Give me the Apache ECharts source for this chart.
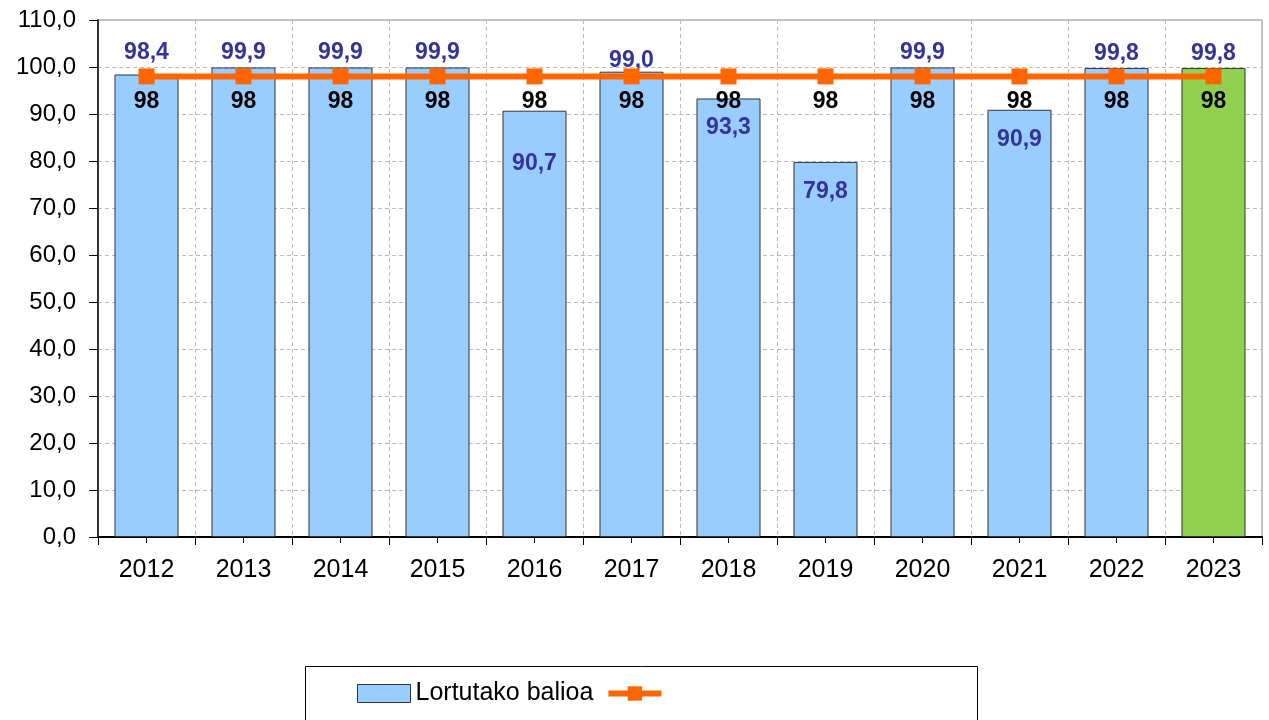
<!DOCTYPE html>
<html>
<head>
<meta charset="utf-8">
<script src="https://cdn.jsdelivr.net/npm/echarts@6/dist/echarts.min.js"></script>
<style>
  html, body { margin: 0; padding: 0; background: #fff; }
  #chart { width: 1269px; height: 720px; }
</style>
</head>
<body>
<div id="chart"></div>
<script>
// data
const years = ["2012", "2013", "2014", "2015", "2016", "2017", "2018", "2019", "2020", "2021", "2022", "2023"];
const achieved = [98.4, 99.9, 99.9, 99.9, 90.7, 99.0, 93.3, 79.8, 99.9, 90.9, 99.8, 99.8];
const target = [98, 98, 98, 98, 98, 98, 98, 98, 98, 98, 98, 98];
const yTicks = { min: 0, max: 110, interval: 10 };

const fontFamily = "Liberation Sans, Arial, sans-serif";
const fmt = v => v.toFixed(1).replace(".", ",");

// label placement per bar (Excel nudged some labels inside the bar)
const labelPlace = [
  { position: "top", distance: 10 },
  { position: "top", distance: 3 },
  { position: "top", distance: 3 },
  { position: "top", distance: 3 },
  { position: "insideTop", distance: 41 },
  { position: "top", distance: 0 },
  { position: "insideTop", distance: 18 },
  { position: "insideTop", distance: 18 },
  { position: "top", distance: 3 },
  { position: "insideTop", distance: 18 },
  { position: "top", distance: 3 },
  { position: "top", distance: 3 }
];

const barData = achieved.map((v, i) => ({
  value: v,
  itemStyle: i === achieved.length - 1 ? { color: "#92D050" } : undefined,
  label: labelPlace[i]
}));

const chart = echarts.init(document.getElementById("chart"));
chart.setOption({
  animation: false,
  textStyle: { fontFamily: fontFamily },
  grid: {
    left: 98, right: 7, top: 20, bottom: 183,
    show: true, borderColor: "#888", borderWidth: 1
  },
  legend: {
    left: 352, top: 676,
    itemWidth: 53, itemHeight: 18, itemGap: 12,
    textStyle: { fontSize: 25, color: "#000", fontFamily: fontFamily },
    data: [
      { name: "Lortutako balioa", icon: "rect", itemStyle: { borderWidth: 1 } },
      { name: " ", lineStyle: { width: 6 } }
    ]
  },
  graphic: [{
    type: "rect",
    shape: { x: 305.5, y: 666.5, width: 672, height: 70 },
    style: { fill: "none", stroke: "#000", lineWidth: 1 },
    silent: true
  }],
  xAxis: [{
    type: "category",
    data: years,
    axisLine: { lineStyle: { color: "#000", width: 2 } },
    axisTick: { show: true, length: 8, lineStyle: { color: "#000" } },
    axisLabel: { fontSize: 25, color: "#000", margin: 21 },
    splitLine: { show: true, lineStyle: { color: "#bbb", type: [4, 3] } }
  }, {
    type: "category",
    data: years,
    position: "bottom",
    axisLine: { show: false },
    axisTick: { show: true, alignWithLabel: true, length: 6, lineStyle: { color: "#000" } },
    axisLabel: { show: false }
  }],
  yAxis: {
    type: "value",
    min: yTicks.min, max: yTicks.max, interval: yTicks.interval,
    axisLine: { show: true, lineStyle: { color: "#333", width: 2 } },
    axisTick: { show: true, length: 9, lineStyle: { color: "#000" } },
    axisLabel: { fontSize: 24, color: "#000", margin: 22, formatter: fmt },
    splitLine: { show: true, lineStyle: { color: "#bbb", type: [4, 3] } }
  },
  series: [{
    name: "Lortutako balioa",
    type: "bar",
    data: barData,
    barWidth: "66%",
    itemStyle: { color: "#99CCFF", borderColor: "#333", borderWidth: 1 },
    label: {
      show: true,
      fontSize: 23, fontWeight: "bold", color: "#333399",
      formatter: p => fmt(p.value)
    },
    z: 2
  }, {
    name: " ",
    type: "line",
    data: target,
    symbol: "rect",
    symbolSize: 16,
    lineStyle: { color: "#FF6600", width: 6 },
    itemStyle: { color: "#FF6600" },
    label: {
      show: true, position: "bottom", distance: 6,
      fontSize: 23, fontWeight: "bold", color: "#000"
    },
    z: 3
  }]
});
</script>
</body>
</html>
